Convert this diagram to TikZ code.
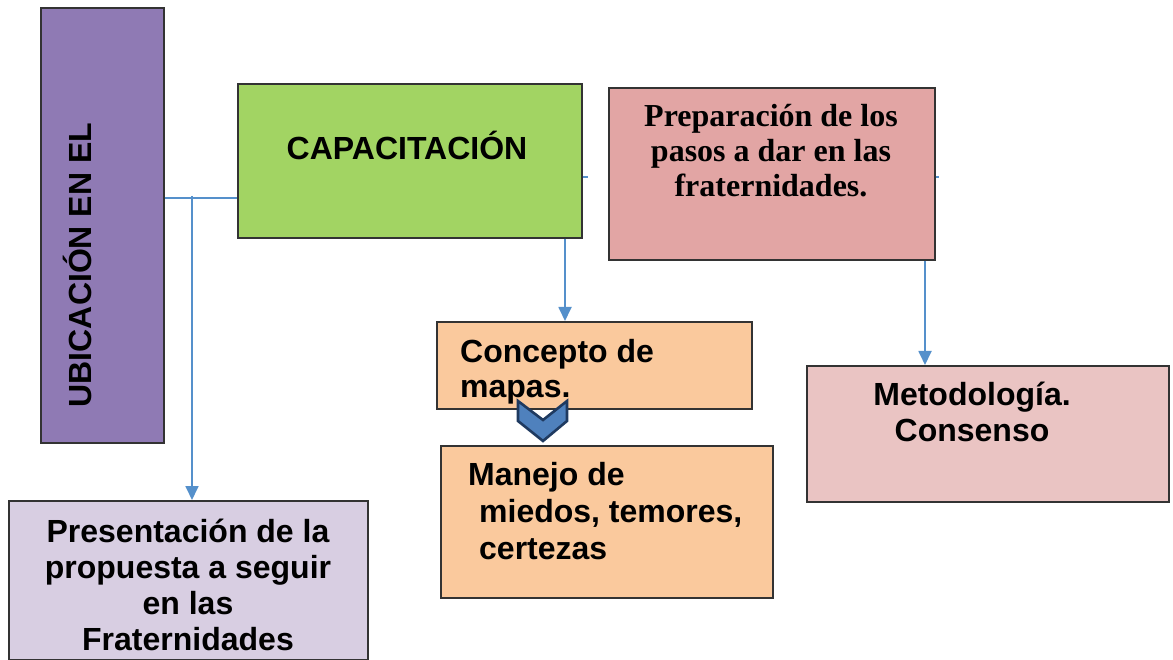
\documentclass[tikz,border=0pt]{standalone}
\usepackage{fontspec}
\setmainfont{Liberation Sans}
\newfontfamily\timesbf{Liberation Serif}
\usetikzlibrary{calc,arrows.meta}
\definecolor{ubiccol}{HTML}{8F7AB4}
\definecolor{capacol}{HTML}{A2D463}
\definecolor{prepcol}{HTML}{E2A5A4}
\definecolor{orangecol}{HTML}{FAC99D}
\definecolor{metodcol}{HTML}{EAC4C3}
\definecolor{prescol}{HTML}{D8CEE2}
\definecolor{linecol}{HTML}{5590CB}
\definecolor{navycol}{HTML}{1F3A60}
\definecolor{chevcol}{HTML}{4F81BD}
\begin{document}
\begin{tikzpicture}[x=1pt,y=-1pt]
		\tikzstyle{box}=[draw=black!80, line width=1.6pt, inner sep=0pt, anchor=north west]
		\tikzstyle{txt}=[inner sep=0pt, font=\fontsize{32}{36}\selectfont\bfseries]
		\tikzstyle{conn}=[color=linecol, line width=1.8pt]
		\tikzstyle{arr}=[conn, -{Triangle[width=13pt,length=14pt]}]
		\useasboundingbox (0,0) rectangle (1173,660);
		
		% boxes
		\node[box, fill=ubiccol, minimum width=123pt, minimum height=435pt] (ubic) at (40,7) {};
		\node[box, fill=capacol, minimum width=344pt, minimum height=154pt] (capa) at (237,83) {};
		\node[box, fill=prepcol, minimum width=326pt, minimum height=172pt] (prep) at (608,87) {};
		\node[box, fill=orangecol, minimum width=315pt, minimum height=87pt] (conc) at (436,321) {};
		\node[box, fill=orangecol, minimum width=332pt, minimum height=152pt] (manejo) at (440,445) {};
		\node[box, fill=metodcol, minimum width=362pt, minimum height=136pt] (metod) at (806,365) {};
		\node[box, fill=prescol, minimum width=359pt, minimum height=159pt] (pres) at (8,500) {};
		
		% texts (base = last line)
		\node[txt, rotate=90, anchor=base] (ubictxt) at (91,265) {UBICACIÓN EN EL};
		\node[txt, anchor=base] (capatxt) at (407,160) {CAPACITACIÓN};
		\node[txt, anchor=base, align=center, font=\fontsize{32}{35}\selectfont\timesbf\bfseries] (preptxt) at (771,197) {Preparación de los\\pasos a dar en las\\fraternidades.};
		\node[txt, anchor=base west, align=left, font=\fontsize{32}{35}\selectfont\bfseries] (conctxt) at (460,397) {Concepto de\\mapas.};
		\node[txt, anchor=base west, align=left, font=\fontsize{32}{37}\selectfont\bfseries] (manejotxt) at (468,559) {Manejo de\\\hspace{11pt}miedos, temores,\\\hspace{11pt}certezas};
		\node[txt, anchor=base, align=center] (metodtxt) at (972,441) {Metodología.\\Consenso};
		\node[txt, anchor=base, align=center] (prestxt) at (188,650) {Presentación de la\\propuesta a seguir\\en las\\Fraternidades};
		
		% chevron
		\draw[line width=2.6pt, color=navycol, fill=chevcol, line join=miter] (518,401) -- (543,420) -- (567,401) -- (567,421) -- (543,441) -- (518,421) -- cycle;
		
		% connectors
		\coordinate (j) at (192,198);
		\draw[conn] (ubic.east |- j) -- (capa.west |- j);
		\draw[arr] ([yshift=2pt]j) -- (pres.north -| j);
		\draw[arr] (capa.south -| 565,0) -- (conc.north -| 565,0);
		\draw[arr] (prep.south -| 925,0) -- (metod.north -| 925,0);
		\draw[conn] (capa.east) ++(0,16) -- ++(5,0);
		\draw[conn] (prep.east) ++(0,3) -- ++(3,0);
		
\end{tikzpicture}
\end{document}
